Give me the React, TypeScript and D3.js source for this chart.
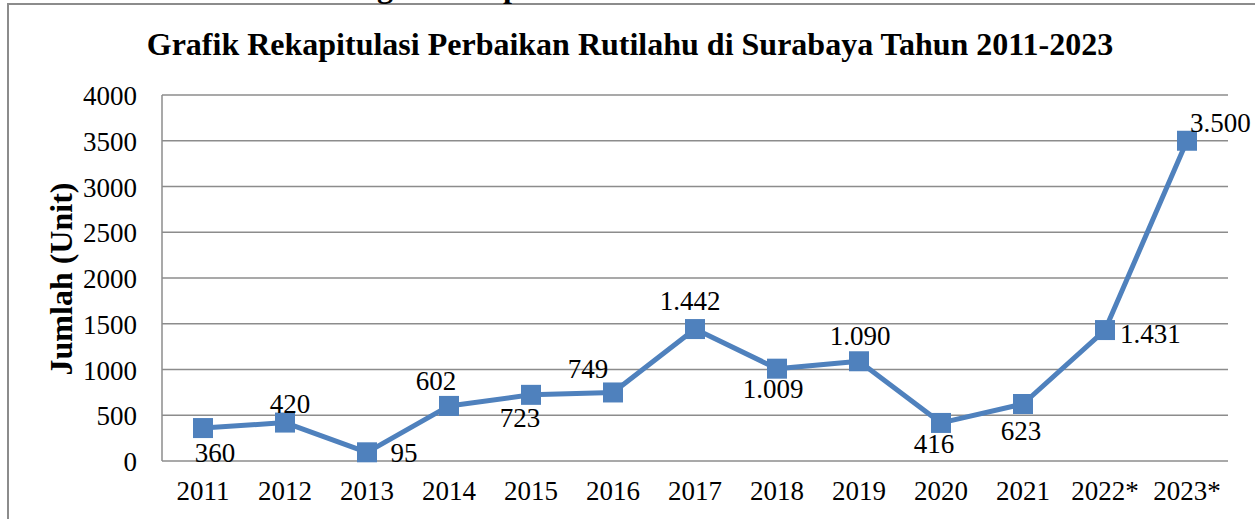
import React, { useEffect, useRef } from "react";
import * as d3 from "d3";

const categories = ["2011", "2012", "2013", "2014", "2015", "2016", "2017", "2018", "2019", "2020", "2021", "2022*", "2023*"];
const values = [360, 420, 95, 602, 723, 749, 1442, 1009, 1090, 416, 623, 1431, 3500];
const valueLabels = ["360", "420", "95", "602", "723", "749", "1.442", "1.009", "1.090", "416", "623", "1.431", "3.500"];
const yTicks = [0, 500, 1000, 1500, 2000, 2500, 3000, 3500, 4000];
// label placement offsets (dx, dy of text baseline relative to the point)
const labelOffsets: [number, number, string][] = [
  [12, 34, "middle"], [5, -10, "middle"], [37, 10, "middle"], [-13, -16, "middle"], [-11, 32, "middle"],
  [-25, -14, "middle"], [-5, -19, "middle"], [-4, 29, "middle"], [1, -16, "middle"], [-7, 30, "middle"],
  [-2, 36, "middle"], [15, 13, "start"], [3, -9, "start"],
];

const W = 1255, H = 519;
const M = { left: 162, right: 1228, top: 95, bottom: 461 };
const FONT = "Liberation Serif";

export default function App() {
  const ref = useRef<SVGSVGElement>(null);
  useEffect(() => {
    const svg = d3.select(ref.current);
    svg.selectAll("*").remove();
    const x = d3.scaleBand<string>().domain(categories).range([M.left, M.right]);
    const y = d3.scaleLinear().domain([0, 4000]).range([M.bottom, M.top]);

    // outer frame
    svg.append("path").attr("d", `M8,${H + 5} L8,4 L${W + 5},4`).attr("fill", "none").attr("stroke", "#8c8c8c").attr("stroke-width", 2);
    // cropped caption remnants above frame
    svg.append("text").attr("x", 385).attr("y", -3).attr("text-anchor", "middle").style("font-family", FONT).attr("font-weight", "bold").attr("font-size", 32).text("g");
    svg.append("text").attr("x", 512).attr("y", -3).attr("text-anchor", "middle").style("font-family", FONT).attr("font-weight", "bold").attr("font-size", 32).text("p");

    // title
    svg.append("text").attr("x", 630).attr("y", 55).attr("text-anchor", "middle")
      .style("font-family", FONT).attr("font-weight", "bold").attr("font-size", 32).text("Grafik Rekapitulasi Perbaikan Rutilahu di Surabaya Tahun 2011-2023");

    // gridlines
    svg.append("g").selectAll("line").data(yTicks).join("line")
      .attr("x1", M.left).attr("x2", M.right).attr("y1", d => y(d)).attr("y2", d => y(d))
      .attr("stroke", "#8c8c8c").attr("stroke-width", 1.5);
    // left axis line
    svg.append("line").attr("x1", M.left).attr("x2", M.left).attr("y1", M.top).attr("y2", M.bottom).attr("stroke", "#8c8c8c").attr("stroke-width", 1.5);

    // y tick labels
    svg.append("g").selectAll("text").data(yTicks).join("text")
      .attr("x", 137).attr("y", d => y(d) + 10).attr("text-anchor", "end")
      .style("font-family", FONT).attr("font-size", 27).text(d => String(d));
    // x tick labels
    svg.append("g").selectAll("text").data(categories).join("text")
      .attr("x", d => (x(d) as number) + x.bandwidth() / 2).attr("y", 500).attr("text-anchor", "middle")
      .style("font-family", FONT).attr("font-size", 27).text(d => d);

    // y axis title
    svg.append("text").attr("transform", "translate(72,279) rotate(-90)").attr("text-anchor", "middle")
      .style("font-family", FONT).attr("font-weight", "bold").attr("font-size", 32).text("Jumlah (Unit)");

    const cx = (i: number) => (x(categories[i]) as number) + x.bandwidth() / 2;
    const line = d3.line<number>().x((_, i) => cx(i)).y(d => y(d));
    svg.append("path").datum(values).attr("d", line).attr("fill", "none").attr("stroke", "#4f81bd").attr("stroke-width", 5).attr("stroke-linejoin", "round");

    svg.append("g").selectAll("rect").data(values).join("rect")
      .attr("x", (_, i) => cx(i) - 10).attr("y", d => y(d) - 10).attr("width", 20).attr("height", 20).attr("fill", "#4f81bd");

    svg.append("g").selectAll("text").data(values).join("text")
      .attr("x", (_, i) => cx(i) + labelOffsets[i][0]).attr("y", (d, i) => y(d) + labelOffsets[i][1])
      .attr("text-anchor", (_, i) => labelOffsets[i][2])
      .style("font-family", FONT).attr("font-size", 27).text((_, i) => valueLabels[i]);
  }, []);
  return (
    <svg ref={ref} width={W} height={H} style={{ position: "absolute", left: 0, top: 0, background: "#fff" }} />
  );
}
